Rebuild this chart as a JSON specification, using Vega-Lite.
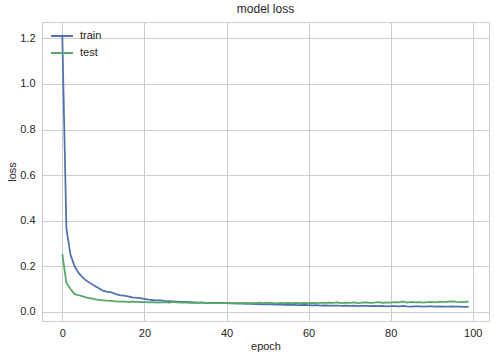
{
  "$schema": "https://vega.github.io/schema/vega-lite/v6.json",
  "width": 447,
  "height": 299,
  "autosize": "none",
  "padding": {"left": 42, "top": 22, "right": 6, "bottom": 38},
  "background": "white",
  "title": {"text": "model loss", "fontSize": 12, "font": "Liberation Sans", "fontWeight": "normal", "color": "#262626", "offset": 6},
  "config": {
    "view": {"stroke": "#cccccc", "strokeWidth": 1},
    "font": "Liberation Sans"
  },
  "data": {"values": [
    {"epoch":0,"train":1.21,"test":0.255},{"epoch":1,"train":0.365,"test":0.127},{"epoch":2,"train":0.25,"test":0.1},{"epoch":3,"train":0.2,"test":0.078},{"epoch":4,"train":0.17,"test":0.073},
    {"epoch":5,"train":0.15,"test":0.068},{"epoch":6,"train":0.135,"test":0.063},{"epoch":7,"train":0.124,"test":0.059},{"epoch":8,"train":0.113,"test":0.055},{"epoch":9,"train":0.103,"test":0.053},
    {"epoch":10,"train":0.092,"test":0.051},{"epoch":11,"train":0.088,"test":0.049},{"epoch":12,"train":0.086,"test":0.048},{"epoch":13,"train":0.078,"test":0.046},{"epoch":14,"train":0.074,"test":0.045},
    {"epoch":15,"train":0.071,"test":0.045},{"epoch":16,"train":0.068,"test":0.044},{"epoch":17,"train":0.064,"test":0.045},{"epoch":18,"train":0.062,"test":0.044},{"epoch":19,"train":0.06,"test":0.043},
    {"epoch":20,"train":0.057,"test":0.043},{"epoch":21,"train":0.054,"test":0.042},{"epoch":22,"train":0.052,"test":0.043},{"epoch":23,"train":0.05,"test":0.041},{"epoch":24,"train":0.05,"test":0.042},
    {"epoch":25,"train":0.048,"test":0.043},{"epoch":26,"train":0.047,"test":0.041},{"epoch":27,"train":0.046,"test":0.044},{"epoch":28,"train":0.045,"test":0.042},{"epoch":29,"train":0.044,"test":0.041},
    {"epoch":30,"train":0.044,"test":0.042},{"epoch":31,"train":0.043,"test":0.04},{"epoch":32,"train":0.042,"test":0.041},{"epoch":33,"train":0.041,"test":0.04},{"epoch":34,"train":0.041,"test":0.042},
    {"epoch":35,"train":0.04,"test":0.039},{"epoch":36,"train":0.04,"test":0.04},{"epoch":37,"train":0.039,"test":0.039},{"epoch":38,"train":0.039,"test":0.038},{"epoch":39,"train":0.038,"test":0.04},
    {"epoch":40,"train":0.038,"test":0.038},{"epoch":41,"train":0.037,"test":0.039},{"epoch":42,"train":0.037,"test":0.037},{"epoch":43,"train":0.036,"test":0.039},{"epoch":44,"train":0.036,"test":0.038},
    {"epoch":45,"train":0.035,"test":0.04},{"epoch":46,"train":0.035,"test":0.038},{"epoch":47,"train":0.034,"test":0.039},{"epoch":48,"train":0.034,"test":0.041},{"epoch":49,"train":0.033,"test":0.038},
    {"epoch":50,"train":0.033,"test":0.04},{"epoch":51,"train":0.033,"test":0.039},{"epoch":52,"train":0.032,"test":0.037},{"epoch":53,"train":0.033,"test":0.039},{"epoch":54,"train":0.031,"test":0.038},
    {"epoch":55,"train":0.031,"test":0.04},{"epoch":56,"train":0.032,"test":0.038},{"epoch":57,"train":0.03,"test":0.039},{"epoch":58,"train":0.03,"test":0.038},{"epoch":59,"train":0.031,"test":0.04},
    {"epoch":60,"train":0.03,"test":0.038},{"epoch":61,"train":0.029,"test":0.039},{"epoch":62,"train":0.03,"test":0.038},{"epoch":63,"train":0.028,"test":0.04},{"epoch":64,"train":0.029,"test":0.039},
    {"epoch":65,"train":0.028,"test":0.041},{"epoch":66,"train":0.027,"test":0.04},{"epoch":67,"train":0.028,"test":0.042},{"epoch":68,"train":0.026,"test":0.039},{"epoch":69,"train":0.027,"test":0.041},
    {"epoch":70,"train":0.026,"test":0.04},{"epoch":71,"train":0.027,"test":0.042},{"epoch":72,"train":0.025,"test":0.039},{"epoch":73,"train":0.026,"test":0.041},{"epoch":74,"train":0.026,"test":0.042},
    {"epoch":75,"train":0.025,"test":0.04},{"epoch":76,"train":0.026,"test":0.041},{"epoch":77,"train":0.025,"test":0.043},{"epoch":78,"train":0.026,"test":0.04},{"epoch":79,"train":0.024,"test":0.042},
    {"epoch":80,"train":0.025,"test":0.041},{"epoch":81,"train":0.025,"test":0.043},{"epoch":82,"train":0.024,"test":0.042},{"epoch":83,"train":0.026,"test":0.046},{"epoch":84,"train":0.024,"test":0.041},
    {"epoch":85,"train":0.023,"test":0.044},{"epoch":86,"train":0.024,"test":0.042},{"epoch":87,"train":0.024,"test":0.043},{"epoch":88,"train":0.023,"test":0.041},{"epoch":89,"train":0.024,"test":0.043},
    {"epoch":90,"train":0.024,"test":0.044},{"epoch":91,"train":0.023,"test":0.042},{"epoch":92,"train":0.024,"test":0.045},{"epoch":93,"train":0.023,"test":0.043},{"epoch":94,"train":0.023,"test":0.045},
    {"epoch":95,"train":0.024,"test":0.046},{"epoch":96,"train":0.023,"test":0.044},{"epoch":97,"train":0.023,"test":0.043},{"epoch":98,"train":0.022,"test":0.044},{"epoch":99,"train":0.023,"test":0.045}
  ]},
  "transform": [{"fold": ["train", "test"], "as": ["series", "loss"]}],
  "mark": {"type": "line", "strokeWidth": 1.75, "clip": true},
  "encoding": {
    "x": {
      "field": "epoch", "type": "quantitative",
      "scale": {"domain": [-4.95, 103.95], "nice": false, "zero": false},
      "axis": {"values": [0, 20, 40, 60, 80, 100], "title": "epoch", "domain": false, "ticks": false,
        "gridColor": "#cccccc", "gridWidth": 1, "labelFontSize": 11, "labelColor": "#262626", "labelPadding": 6,
        "titleFontSize": 11, "titleFontWeight": "normal", "titleColor": "#262626", "titlePadding": 2, "labelFont": "Liberation Sans", "titleFont": "Liberation Sans"}
    },
    "y": {
      "field": "loss", "type": "quantitative",
      "scale": {"domain": [-0.04, 1.272], "nice": false, "zero": false},
      "axis": {"values": [0, 0.2, 0.4, 0.6, 0.8, 1.0, 1.2], "format": ".1f", "title": "loss", "domain": false, "ticks": false,
        "gridColor": "#cccccc", "gridWidth": 1, "labelFontSize": 11, "labelColor": "#262626", "labelPadding": 7,
        "titleFontSize": 11, "titleFontWeight": "normal", "titleColor": "#262626", "titlePadding": 2, "labelFont": "Liberation Sans", "titleFont": "Liberation Sans"}
    },
    "color": {
      "field": "series", "type": "nominal",
      "scale": {"domain": ["train", "test"], "range": ["#4C72B0", "#55A868"]},
      "legend": {"title": null, "orient": "none", "legendX": 8, "legendY": 2, "symbolType": "stroke", "symbolSize": 480, "symbolStrokeWidth": 2,
        "labelFontSize": 11, "labelColor": "#262626", "labelFont": "Liberation Sans", "rowPadding": -7, "padding": 0, "labelOffset": 6}
    }
  }
}
